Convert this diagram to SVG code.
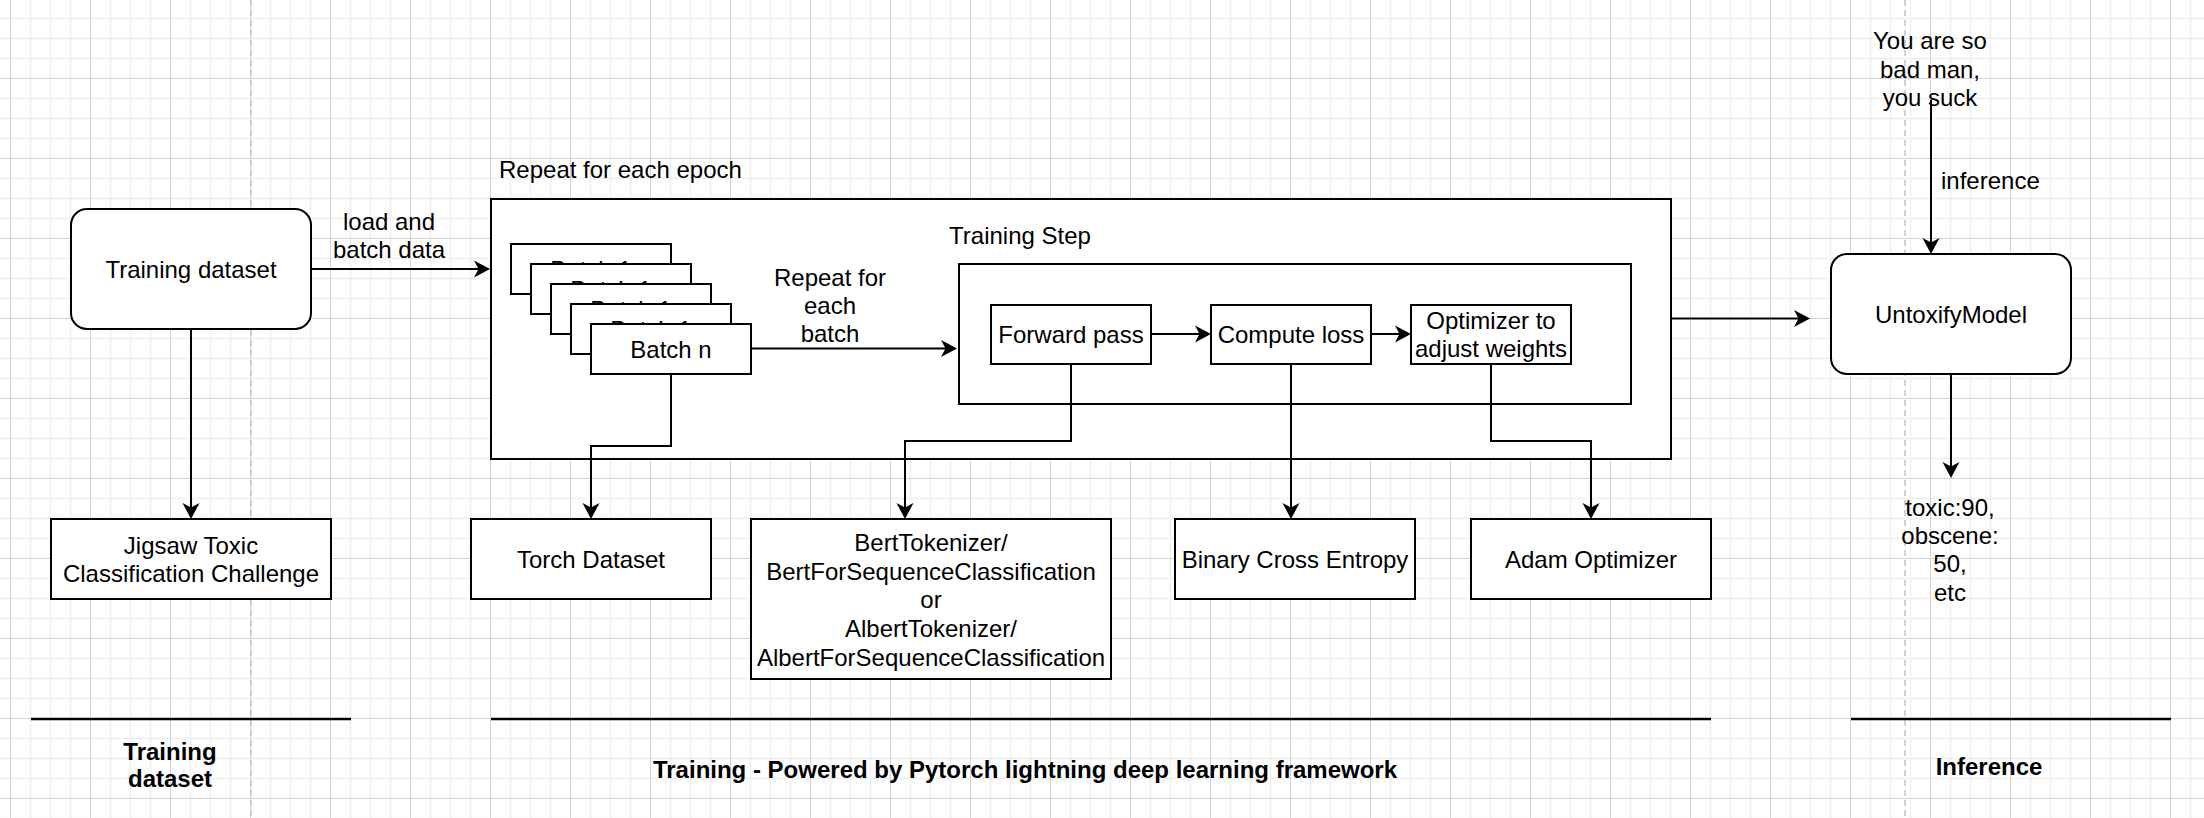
<svg xmlns="http://www.w3.org/2000/svg" width="2204" height="818" viewBox="0 0 2204 818">
<style>
.box{fill:#fff;stroke:#000;stroke-width:2}
.t{font-family:"Liberation Sans",Arial,Helvetica,sans-serif;font-size:24px;fill:#000;text-anchor:middle;dominant-baseline:central}
.ts{text-anchor:start}
.b{font-weight:bold}
.edge{fill:none;stroke:#000;stroke-width:2}
.arr{marker-end:url(#ah)}
.sep{stroke:#000;stroke-width:2.5}
.dash{stroke:#c4c4c4;stroke-width:1.5;stroke-dasharray:6 4}
</style>
<defs>
<pattern id="grid" patternUnits="userSpaceOnUse" x="10" y="-2" width="80" height="80">
<path d="M20.5 0V80M40.5 0V80M60.5 0V80M0 20.5H80M0 40.5H80M0 60.5H80" stroke="#efefef" stroke-width="1.5" fill="none"/>
<path d="M0.5 0V80M0 0.5H80" stroke="#d3d3d3" stroke-width="1" fill="none"/>
</pattern>
<marker id="ah" markerUnits="userSpaceOnUse" viewBox="-9 -9 18 18" refX="0" refY="0" markerWidth="18" markerHeight="18" orient="auto">
<path d="M8,0 L-8,-8.5 L-3.5,0 L-8,8.5 Z" fill="#000"/>
</marker>
</defs>
<rect width="2204" height="818" fill="#fff"/>
<rect width="2204" height="818" fill="url(#grid)"/>
<line class="dash" x1="251" y1="0" x2="251" y2="818"/>
<line class="dash" x1="1905" y1="0" x2="1905" y2="818"/>

<g id="epoch-container">
<rect class="box" x="491" y="199" width="1180" height="260"/>
<text class="t ts" x="499" y="169">Repeat for each epoch</text>
</g>
<g id="training-step-container">
<rect class="box" x="959" y="264" width="672" height="140"/>
<text class="t" x="1020" y="235">Training Step</text>
</g>

<g id="connectors">
<path class="edge arr" d="M311 269H482"/>
<text class="t" x="389" y="221">load and</text>
<text class="t" x="389" y="249">batch data</text>
<path class="edge arr" d="M191 329V511"/>
<path class="edge arr" d="M671 374V446H591V511"/>
<path class="edge arr" d="M751 348.5H949"/>
<text class="t" x="830" y="277">Repeat for</text>
<text class="t" x="830" y="305">each</text>
<text class="t" x="830" y="333">batch</text>
<path class="edge arr" d="M1151 334H1203"/>
<path class="edge arr" d="M1371 334H1403"/>
<path class="edge arr" d="M1071 364V441H905V511"/>
<path class="edge arr" d="M1291 364V511"/>
<path class="edge arr" d="M1491 364V441H1591V511"/>
<path class="edge arr" d="M1671 318.5H1802"/>
<path class="edge arr" d="M1931 100V246"/>
<text class="t ts" x="1941" y="180">inference</text>
<path class="edge arr" d="M1951 374V470"/>
</g>

<g id="training-dataset">
<rect class="box" x="71" y="209" width="240" height="120" rx="16" ry="16"/>
<text class="t" x="191" y="269">Training dataset</text>
</g>
<g id="batch-1a"><rect class="box" x="511" y="244" width="160" height="50"/><text class="t" x="591" y="269">Batch 1</text></g>
<g id="batch-1b"><rect class="box" x="531" y="264" width="160" height="50"/><text class="t" x="611" y="289">Batch 1</text></g>
<g id="batch-1c"><rect class="box" x="551" y="284" width="160" height="50"/><text class="t" x="631" y="309">Batch 1</text></g>
<g id="batch-1d"><rect class="box" x="571" y="304" width="160" height="50"/><text class="t" x="651" y="329">Batch 1</text></g>
<g id="batch-n"><rect class="box" x="591" y="324" width="160" height="50"/><text class="t" x="671" y="349">Batch n</text></g>
<g id="forward-pass"><rect class="box" x="991" y="305" width="160" height="59"/><text class="t" x="1071" y="334">Forward pass</text></g>
<g id="compute-loss"><rect class="box" x="1211" y="305" width="160" height="59"/><text class="t" x="1291" y="334">Compute loss</text></g>
<g id="optimizer"><rect class="box" x="1411" y="305" width="160" height="59"/><text class="t" x="1491" y="320">Optimizer to</text><text class="t" x="1491" y="348">adjust weights</text></g>
<g id="untoxify-model"><rect class="box" x="1831" y="254" width="240" height="120" rx="16" ry="16"/><text class="t" x="1951" y="314">UntoxifyModel</text></g>
<g id="input-text"><text class="t" x="1930" y="40">You are so</text><text class="t" x="1930" y="69">bad man,</text><text class="t" x="1930" y="97">you suck</text></g>
<g id="output-text"><text class="t" x="1950" y="507">toxic:90,</text><text class="t" x="1950" y="535">obscene:</text><text class="t" x="1950" y="563">50,</text><text class="t" x="1950" y="592">etc</text></g>
<g id="jigsaw"><rect class="box" x="51" y="519" width="280" height="80"/><text class="t" x="191" y="545">Jigsaw Toxic</text><text class="t" x="191" y="573">Classification Challenge</text></g>
<g id="torch-dataset"><rect class="box" x="471" y="519" width="240" height="80"/><text class="t" x="591" y="559">Torch Dataset</text></g>
<g id="bert"><rect class="box" x="751" y="519" width="360" height="160"/>
<text class="t" x="931" y="542">BertTokenizer/</text>
<text class="t" x="931" y="571">BertForSequenceClassification</text>
<text class="t" x="931" y="599">or</text>
<text class="t" x="931" y="628">AlbertTokenizer/</text>
<text class="t" x="931" y="657">AlbertForSequenceClassification</text></g>
<g id="bce"><rect class="box" x="1175" y="519" width="240" height="80"/><text class="t" x="1295" y="559">Binary Cross Entropy</text></g>
<g id="adam"><rect class="box" x="1471" y="519" width="240" height="80"/><text class="t" x="1591" y="559">Adam Optimizer</text></g>

<g id="section-training-dataset"><line class="sep" x1="31" y1="719" x2="351" y2="719"/><text class="t b" x="170" y="751">Training</text><text class="t b" x="170" y="778">dataset</text></g>
<g id="section-training"><line class="sep" x1="491" y1="719" x2="1711" y2="719"/><text class="t b" x="1025" y="769">Training - Powered by Pytorch lightning deep learning framework</text></g>
<g id="section-inference"><line class="sep" x1="1851" y1="719" x2="2171" y2="719"/><text class="t b" x="1989" y="766">Inference</text></g>
</svg>
